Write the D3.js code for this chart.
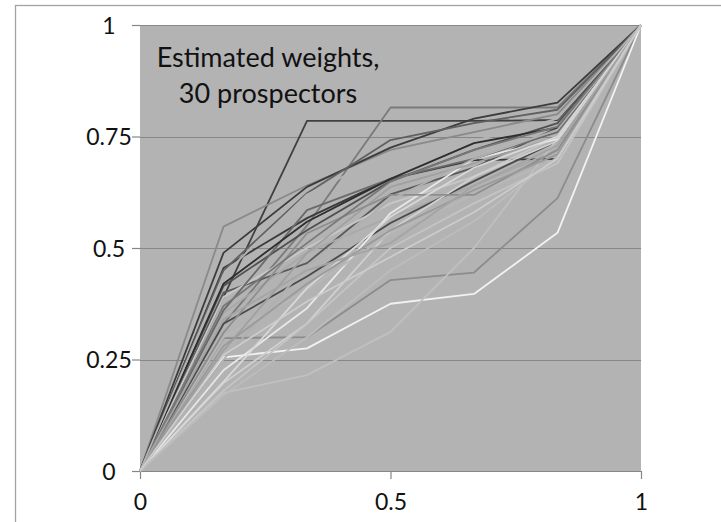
<!DOCTYPE html>
<html>
<head>
<meta charset="utf-8">
<script src="https://cdn.jsdelivr.net/npm/d3@7"></script>
<style>
  html, body { margin: 0; padding: 0; background: #fff; }
  svg { display: block; }
  text { font-family: Lato, "Open Sans", sans-serif; fill: #111; }
</style>
</head>
<body>
<svg id="chart" width="721" height="522"></svg>
<script>
// Probability grid (x) at which each prospector's weight was estimated
const probGrid = [0, 1/6, 2/6, 3/6, 4/6, 5/6, 1];

// Estimated decision weights, one row per prospector (30 rows)
const prospectorWeights = [
  [0, 0.390, 0.785, 0.785, 0.785, 0.787, 1],
  [0, 0.330, 0.550, 0.815, 0.815, 0.815, 1],
  [0, 0.548, 0.640, 0.720, 0.760, 0.800, 1],
  [0, 0.489, 0.637, 0.725, 0.790, 0.826, 1],
  [0, 0.455, 0.567, 0.655, 0.697, 0.700, 1],
  [0, 0.415, 0.540, 0.650, 0.720, 0.780, 1],
  [0, 0.400, 0.466, 0.620, 0.680, 0.770, 1],
  [0, 0.390, 0.500, 0.600, 0.660, 0.750, 1],
  [0, 0.354, 0.490, 0.570, 0.640, 0.720, 1],
  [0, 0.330, 0.436, 0.556, 0.650, 0.740, 1],
  [0, 0.298, 0.300, 0.428, 0.445, 0.612, 1],
  [0, 0.255, 0.275, 0.375, 0.397, 0.534, 1],
  [0, 0.175, 0.215, 0.312, 0.500, 0.745, 1],
  [0, 0.226, 0.365, 0.578, 0.700, 0.744, 1],
  [0, 0.197, 0.331, 0.540, 0.660, 0.740, 1],
  [0, 0.300, 0.406, 0.533, 0.620, 0.700, 1],
  [0, 0.360, 0.585, 0.655, 0.700, 0.760, 1],
  [0, 0.450, 0.623, 0.742, 0.780, 0.810, 1],
  [0, 0.420, 0.559, 0.655, 0.735, 0.770, 1],
  [0, 0.270, 0.489, 0.637, 0.690, 0.750, 1],
  [0, 0.310, 0.533, 0.619, 0.619, 0.720, 1],
  [0, 0.250, 0.460, 0.608, 0.700, 0.765, 1],
  [0, 0.370, 0.511, 0.649, 0.720, 0.772, 1],
  [0, 0.200, 0.410, 0.570, 0.680, 0.750, 1],
  [0, 0.180, 0.330, 0.500, 0.600, 0.690, 1],
  [0, 0.280, 0.420, 0.540, 0.630, 0.710, 1],
  [0, 0.340, 0.450, 0.511, 0.640, 0.730, 1],
  [0, 0.170, 0.300, 0.450, 0.560, 0.704, 1],
  [0, 0.440, 0.620, 0.713, 0.740, 0.790, 1],
  [0, 0.260, 0.380, 0.480, 0.580, 0.700, 1]
];

// Grey shade of each prospector's line
const prospectorShades = [
  "#404040", "#7a7a7a", "#8a8a8a", "#3c3c3c", "#3a3a3a",
  "#505050", "#5a5a5a", "#c8c8c8", "#a8a8a8", "#4a4a4a",
  "#8c8c8c", "#f2f2f2", "#c0c0c0", "#e8e8e8", "#d0d0d0",
  "#b8b8b8", "#6a6a6a", "#606060", "#2e2e2e", "#a0a0a0",
  "#8e8e8e", "#b0b0b0", "#787878", "#d8d8d8", "#c4c4c4",
  "#9a9a9a", "#a4a4a4", "#bcbcbc", "#b4b4b4", "#cccccc"
];

const xTicks = [0, 0.5, 1];
const xTickLabels = ["0", "0.5", "1"];
const yTicks = [0, 0.25, 0.5, 0.75, 1];
const yTickLabels = ["0", "0.25", "0.5", "0.75", "1"];
const annotation = ["Estimated weights,", "30 prospectors"];

const svg = d3.select("#chart");
const plot = { left: 140, right: 641, top: 25, bottom: 471 };

const x = d3.scaleLinear().domain([0, 1]).range([plot.left, plot.right]);
const y = d3.scaleLinear().domain([0, 1]).range([plot.bottom, plot.top]);

// chart frame
svg.append("rect")
  .attr("x", 15.5).attr("y", 5.5)
  .attr("width", 740).attr("height", 560)
  .attr("fill", "none").attr("stroke", "#a3a3a3").attr("stroke-width", 1.3);

// plot background
svg.append("rect")
  .attr("x", plot.left).attr("y", plot.top)
  .attr("width", plot.right - plot.left).attr("height", plot.bottom - plot.top)
  .attr("fill", "#b3b3b3");

// horizontal gridlines
svg.append("g")
  .selectAll("line")
  .data(yTicks.filter(d => d > 0))
  .join("line")
  .attr("x1", plot.left).attr("x2", plot.right)
  .attr("y1", d => Math.round(y(d)) + 0.5).attr("y2", d => Math.round(y(d)) + 0.5)
  .attr("stroke", "#878787").attr("stroke-width", 1.2);

// y axis: ticks and labels only
const yAxis = d3.axisLeft(y)
  .tickValues(yTicks)
  .tickFormat((d, i) => yTickLabels[i])
  .tickSize(8)
  .tickPadding(0);
const gy = svg.append("g").attr("transform", `translate(${plot.left},0)`).call(yAxis);
gy.select(".domain").remove();
gy.selectAll(".tick line").attr("stroke", "#878787").attr("stroke-width", 1.2);
gy.selectAll(".tick text")
  .attr("x", 109 - plot.left)
  .attr("text-anchor", "middle")
  .attr("dy", "0.36em")
  .style("font-size", "23px")
  .attr("fill", "#111");

// x axis
const xAxis = d3.axisBottom(x)
  .tickValues(xTicks)
  .tickFormat((d, i) => xTickLabels[i])
  .tickSizeInner(8).tickSizeOuter(0)
  .tickPadding(15);
const gx = svg.append("g").attr("transform", `translate(0,${plot.bottom})`).call(xAxis);
gx.select(".domain").attr("stroke", "#878787").attr("stroke-width", 1.2);
gx.selectAll(".tick line").attr("stroke", "#878787").attr("stroke-width", 1.2);
gx.selectAll(".tick text")
  .style("font-size", "23px")
  .attr("fill", "#111");

// one polyline per prospector
const line = d3.line()
  .x((d, i) => x(probGrid[i]))
  .y(d => y(d));

svg.append("g")
  .selectAll("path")
  .data(prospectorWeights)
  .join("path")
  .attr("d", line)
  .attr("fill", "none")
  .attr("stroke", (d, i) => prospectorShades[i])
  .attr("stroke-width", 1.8)
  .attr("stroke-linejoin", "round");

// annotation
const note = svg.append("text")
  .attr("x", 268).attr("y", 67)
  .attr("text-anchor", "middle")
  .style("font-size", "27px")
  .attr("fill", "#111");
note.selectAll("tspan")
  .data(annotation)
  .join("tspan")
  .attr("x", 268)
  .attr("dy", (d, i) => i === 0 ? 0 : 36)
  .text(d => d);
</script>
</body>
</html>
